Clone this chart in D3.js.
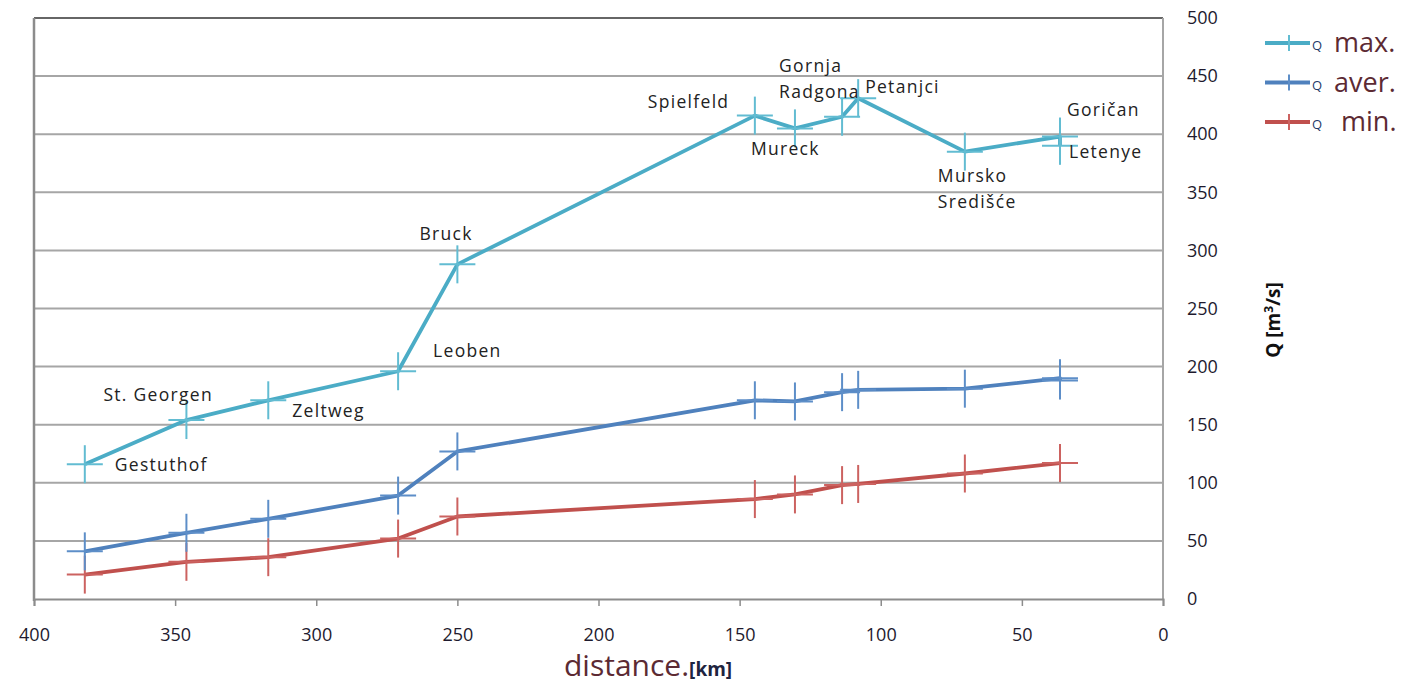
<!DOCTYPE html>
<html><head><meta charset="utf-8">
<script src="https://cdn.jsdelivr.net/npm/d3@7"></script>
<style>
html,body{margin:0;padding:0;background:#fff;}
svg text{font-family:"Open Sans",sans-serif;}
</style></head>
<body>
<svg id="c" width="1411" height="684"></svg>
<script>
// ---- data ----
const stations = ["Gestuthof","St. Georgen","Zeltweg","Leoben","Bruck","Spielfeld","Mureck","Gornja Radgona","Petanjci","Mursko Središće","Goričan","Letenye"];
const distanceKm = [382, 346, 317, 271, 250, 144.6, 130.4, 113.7, 108, 70.2, 36.5, 36.5];
const qMax  = [116, 154, 171, 196, 288, 416, 405, 415, 431, 385, 398, 390];
const qAver = [41, 57, 69, 89, 127, 171, 170, 178, 180, 181, 190, 188];
const qMin  = [21, 32, 36, 52, 71, 86, 90, 98, 99, 108, 117, 117];
const xTicks = [400, 350, 300, 250, 200, 150, 100, 50, 0];
const yTicks = [0, 50, 100, 150, 200, 250, 300, 350, 400, 450, 500];
const seriesNames = ["max.", "aver.", " min."];

// label layout (pixel offsets from max point), lines per label
const labelLines = [["Gestuthof"],["St. Georgen"],["Zeltweg"],["Leoben"],["Bruck"],["Spielfeld"],["Mureck"],["Gornja","Radgona"],["Petanjci"],["Mursko","Središće"],["Goričan"],["Letenye"]];
const labelOff = [[30,7],[-83,-19],[24,17],[35,-14],[-38,-24],[-107,-8],[-44,27],[-63,-45],[7,-5],[-27,30],[7,-21],[9,12]];

const svg = d3.select("#c");
const L = 34, R = 1163, T = 18, B = 599;
const x = d3.scaleLinear().domain([400, 0]).range([L, R]);
const y = d3.scaleLinear().domain([0, 500]).range([B, T]);

// gridlines
svg.append("g").selectAll("line").data(yTicks.filter(d => d > 0 && d < 500)).join("line")
  .attr("x1", L).attr("x2", R).attr("y1", d => y(d)).attr("y2", d => y(d))
  .attr("stroke", "#a6a6a6").attr("stroke-width", 2);
// frame
svg.append("line").attr("x1", L).attr("x2", R).attr("y1", T).attr("y2", T).attr("stroke", "#333").attr("stroke-width", 1.5);
svg.append("line").attr("x1", L).attr("x2", L).attr("y1", T).attr("y2", B + 2).attr("stroke", "#8c8c8c").attr("stroke-width", 2.5);
svg.append("line").attr("x1", R).attr("x2", R).attr("y1", T).attr("y2", B).attr("stroke", "#a6a6a6").attr("stroke-width", 2);

// x axis
const xAxis = d3.axisBottom(x).tickValues(xTicks).tickSize(7).tickPadding(22).tickFormat(d3.format("d"));
const gx = svg.append("g").attr("transform", `translate(0,${B})`).call(xAxis);
gx.select(".domain").attr("stroke", "#8c8c8c").attr("stroke-width", 2);
gx.selectAll(".tick line").attr("stroke", "#8c8c8c").attr("stroke-width", 1.5);
gx.selectAll(".tick text").attr("font-size", 18).attr("fill", "#1e1a2e").attr("font-family", "Open Sans, sans-serif");

// y axis (right)
const yAxis = d3.axisRight(y).tickValues(yTicks).tickSize(0).tickPadding(24).tickFormat(d3.format("d"));
const gy = svg.append("g").attr("transform", `translate(${R},0)`).call(yAxis);
gy.select(".domain").remove();
gy.selectAll(".tick text").attr("font-size", 18).attr("fill", "#1e1a2e").attr("font-family", "Open Sans, sans-serif");

// series
const series = [
  {vals: qMax, color: "#4bacc6", mk: "#62bcd2"},
  {vals: qAver, color: "#4f81bd", mk: "#5d8ec8"},
  {vals: qMin, color: "#c0504d", mk: "#cc6260"}
];
const line = d3.line().x(d => x(d[0])).y(d => y(d[1]));
series.slice().reverse().forEach(s => {
  const pts = distanceKm.map((k, i) => [k, s.vals[i]]);
  svg.append("path").datum(pts).attr("d", line).attr("fill", "none")
    .attr("stroke", s.color).attr("stroke-width", 3.8).attr("stroke-linejoin", "round");
  const g = svg.append("g");
  pts.forEach(p => {
    const px = x(p[0]), py = y(p[1]);
    g.append("line").attr("x1", px - 18).attr("x2", px + 18).attr("y1", py).attr("y2", py).attr("stroke", s.mk).attr("stroke-width", 2);
    g.append("line").attr("x1", px).attr("x2", px).attr("y1", py - 19).attr("y2", py + 19).attr("stroke", s.mk).attr("stroke-width", 2);
  });
});

// station labels
stations.forEach((st, i) => {
  const px = x(distanceKm[i]) + labelOff[i][0], py = y(qMax[i]) + labelOff[i][1];
  const t = svg.append("text").attr("x", px).attr("y", py).attr("font-size", 17.5).attr("fill", "#222").attr("letter-spacing", 1.3);
  labelLines[i].forEach((ln, j) => t.append("tspan").attr("x", px).attr("dy", j === 0 ? 0 : 26).text(ln));
});

// axis titles
svg.append("text").attr("transform", "translate(1280,320) rotate(-90)").attr("text-anchor", "middle")
  .attr("font-size", 19).attr("font-weight", "bold").attr("fill", "#111")
  .html('Q [m<tspan dy="-7" font-size="12">3</tspan><tspan dy="7">/s]</tspan>');
const xt = svg.append("text").attr("x", 564).attr("y", 676).attr("fill", "#5c2a33").attr("font-size", 30);
xt.append("tspan").text("distance.");
xt.append("tspan").attr("font-size", 19).attr("font-weight", "bold").attr("fill", "#1e2440").text("[km]");

// legend
const lg = svg.append("g");
series.forEach((s, i) => {
  const ly = 43 + i * 39.5;
  lg.append("line").attr("x1", 1265).attr("x2", 1310).attr("y1", ly).attr("y2", ly).attr("stroke", s.color).attr("stroke-width", 3.8);
  lg.append("line").attr("x1", 1289).attr("x2", 1289).attr("y1", ly - 8).attr("y2", ly + 8).attr("stroke", s.mk).attr("stroke-width", 2);
  lg.append("text").attr("x", 1312).attr("y", ly + 7).attr("font-size", 13).attr("fill", "#1f3a6a").text("Q");
  lg.append("text").attr("x", 1334).attr("y", ly + 9).attr("font-size", 27).attr("fill", "#5c2a33").style("white-space", "pre").text(seriesNames[i]);
});
</script>
</body></html>
